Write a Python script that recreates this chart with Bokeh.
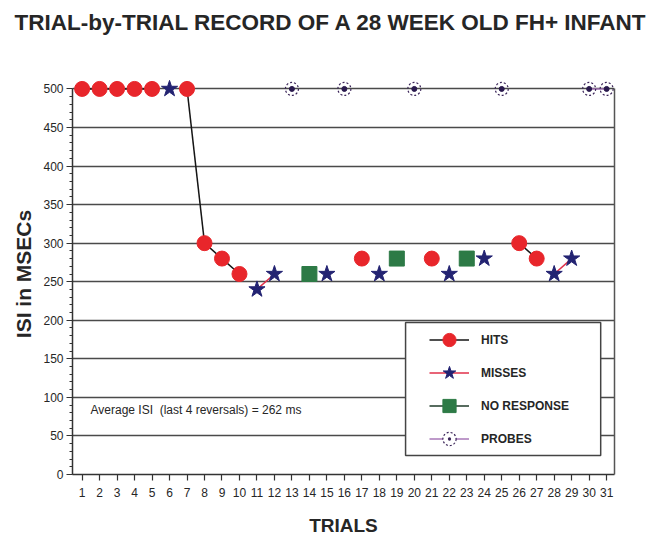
import math
from bokeh.plotting import figure
from bokeh.models import (Range1d, LinearAxis, SingleIntervalTicker, FixedTicker, Legend,
                          LegendItem, Label, BoxAnnotation, ColumnDataSource)
from bokeh.embed import file_html
from bokeh.resources import INLINE

# ---------------- data ----------------
trials = list(range(1, 32))
isi = [500, 500, 500, 500, 500, 500, 500, 300, 280, 260, 240, 260, 500, 260, 260, 500,
       280, 260, 280, 500, 280, 260, 280, 280, 500, 300, 280, 260, 280, 500, 500]
outcome = ["hit", "hit", "hit", "hit", "hit", "miss", "hit", "hit", "hit", "hit",
           "miss", "miss", "probe", "noresp", "miss", "probe", "hit", "miss", "noresp",
           "probe", "hit", "miss", "noresp", "miss", "probe", "hit", "hit", "miss", "miss",
           "probe", "probe"]
legend_labels = ["HITS", "MISSES", "NO RESPONSE", "PROBES"]
y_ticks_step = 50
title_text = "TRIAL-by-TRIAL RECORD OF A 28 WEEK OLD FH+ INFANT"
avg_text = "Average ISI\u00a0 (last 4 reversals) = 262 ms"

FONT = "Liberation Sans"
TXT = "#262626"
line_colors = {"hit": "#151515", "miss": "#e0304a", "noresp": "#1f3b2a", "probe": "#a878b8"}

p = figure(width=658, height=539, output_backend="svg", toolbar_location=None,
           x_range=Range1d(0.45, 31.45), y_range=Range1d(0, 520),
           min_border_left=72, min_border_right=44, min_border_top=73, min_border_bottom=65,
           background_fill_color="white", border_fill_color="white")
p.outline_line_color = None

# title (second blank line reserves space so the first line sits near the top)
p.title.text = title_text + "\n\u00a0"
p.title.text_font = FONT
p.title.text_font_size = "22.5px"
p.title.text_font_style = "bold"
p.title.text_color = TXT
p.title.text_line_height = 1.2
p.title.align = "left"
p.title.vertical_align = "top"
p.title.offset = -58
p.title.standoff = 14

# axes
yax = p.yaxis[0]
yax.ticker = SingleIntervalTicker(interval=y_ticks_step, num_minor_ticks=5)
yax.bounds = (0, 500)
xax = p.xaxis[0]
xax.ticker = SingleIntervalTicker(interval=1, num_minor_ticks=0)
for ax in (xax, yax):
    ax.axis_line_color = "#333333"
    ax.axis_line_width = 1.5
    ax.major_tick_line_color = "#333333"
    ax.major_tick_line_width = 1.2
    ax.minor_tick_line_color = "#333333"
    ax.major_tick_in = 0
    ax.major_tick_out = 6
    ax.minor_tick_in = 0
    ax.minor_tick_out = 3
    ax.major_label_text_font = FONT
    ax.major_label_text_font_size = "12px"
    ax.major_label_text_color = TXT
    ax.axis_label_text_font = FONT
    ax.axis_label_text_font_style = "bold"
    ax.axis_label_text_color = TXT
yax.major_label_standoff = 3
yax.axis_label = "ISI in MSECs"
yax.axis_label_text_font_size = "21px"
yax.axis_label_standoff = 5
xax.major_label_standoff = 7
xax.axis_label = "TRIALS"
xax.axis_label_text_font_size = "19px"
xax.axis_label_standoff = 15

right = LinearAxis(bounds=(0, 500), ticker=FixedTicker(ticks=[]),
                   major_tick_line_color=None, minor_tick_line_color=None,
                   axis_line_color="#555555", axis_line_width=1.5)
p.add_layout(right, "right")

p.xgrid.visible = False
p.ygrid.ticker = SingleIntervalTicker(interval=y_ticks_step)
p.ygrid.grid_line_color = "#4a4a4a"
p.ygrid.grid_line_width = 1.6

# connecting lines between consecutive trials with the same outcome
sx0, sy0, sx1, sy1, sc = [], [], [], [], []
for i in range(len(trials) - 1):
    if outcome[i] == outcome[i + 1]:
        sx0.append(trials[i]); sy0.append(isi[i])
        sx1.append(trials[i + 1]); sy1.append(isi[i + 1])
        sc.append(line_colors[outcome[i]])
p.segment(x0=sx0, y0=sy0, x1=sx1, y1=sy1, line_color=sc, line_width=1.5)


def subset(kind):
    xs = [t for t, o in zip(trials, outcome) if o == kind]
    ys = [v for v, o in zip(isi, outcome) if o == kind]
    return ColumnDataSource(dict(x=xs, y=ys))


r_hit = p.scatter("x", "y", source=subset("hit"), marker="circle", size=15,
                  fill_color="#e8262b", line_color="#e8262b")
r_miss = p.scatter("x", "y", source=subset("miss"), marker="star", size=17,
                   fill_color="#232372", line_color="#232372")
r_nr = p.scatter("x", "y", source=subset("noresp"), marker="square", size=15,
                 fill_color="#2d7a46", line_color="#2d7a46")
p.scatter("x", "y", source=subset("probe"), marker="circle", size=13,
          fill_color=None, line_color="#3a2458", line_width=1.2, line_dash="2 2")
p.scatter("x", "y", source=subset("probe"), marker="circle", size=5,
          fill_color="#2a1a4e", line_color="#2a1a4e")

# legend dummies
nan = [math.nan]
l_hit = p.line(nan, nan, line_color=line_colors["hit"], line_width=1.5)
l_miss = p.line(nan, nan, line_color=line_colors["miss"], line_width=1.5)
l_nr = p.line(nan, nan, line_color=line_colors["noresp"], line_width=1.5)
l_pr = p.line(nan, nan, line_color=line_colors["probe"], line_width=1.5)
pr_leg = p.scatter(nan, nan, marker="circle_dot", size=13, fill_color="white",
                   line_color="#3a2458", line_width=1.2, line_dash="2 2")

box = BoxAnnotation(left=19.5, right=30.66, bottom=24.6, top=197.1,
                    fill_color="white", fill_alpha=1.0, line_color="#444444",
                    line_width=1.5, line_alpha=1.0)
p.add_layout(box)

legend = Legend(items=[LegendItem(label=legend_labels[0], renderers=[l_hit, r_hit]),
                       LegendItem(label=legend_labels[1], renderers=[l_miss, r_miss]),
                       LegendItem(label=legend_labels[2], renderers=[l_nr, r_nr]),
                       LegendItem(label=legend_labels[3], renderers=[l_pr, pr_leg])],
                location=(357, 19), orientation="vertical",
                padding=0, margin=0, spacing=0, glyph_width=40, glyph_height=33,
                label_standoff=12, label_text_font=FONT, label_text_font_size="12px",
                label_text_font_style="bold", label_text_color=TXT,
                border_line_color=None, background_fill_alpha=0)
p.add_layout(legend)

p.add_layout(Label(x=1.48, y=83, text=avg_text, text_font=FONT, text_font_size="12px",
                   text_color=TXT, text_baseline="middle"))

open("out.html", "w").write(file_html(p, INLINE))
